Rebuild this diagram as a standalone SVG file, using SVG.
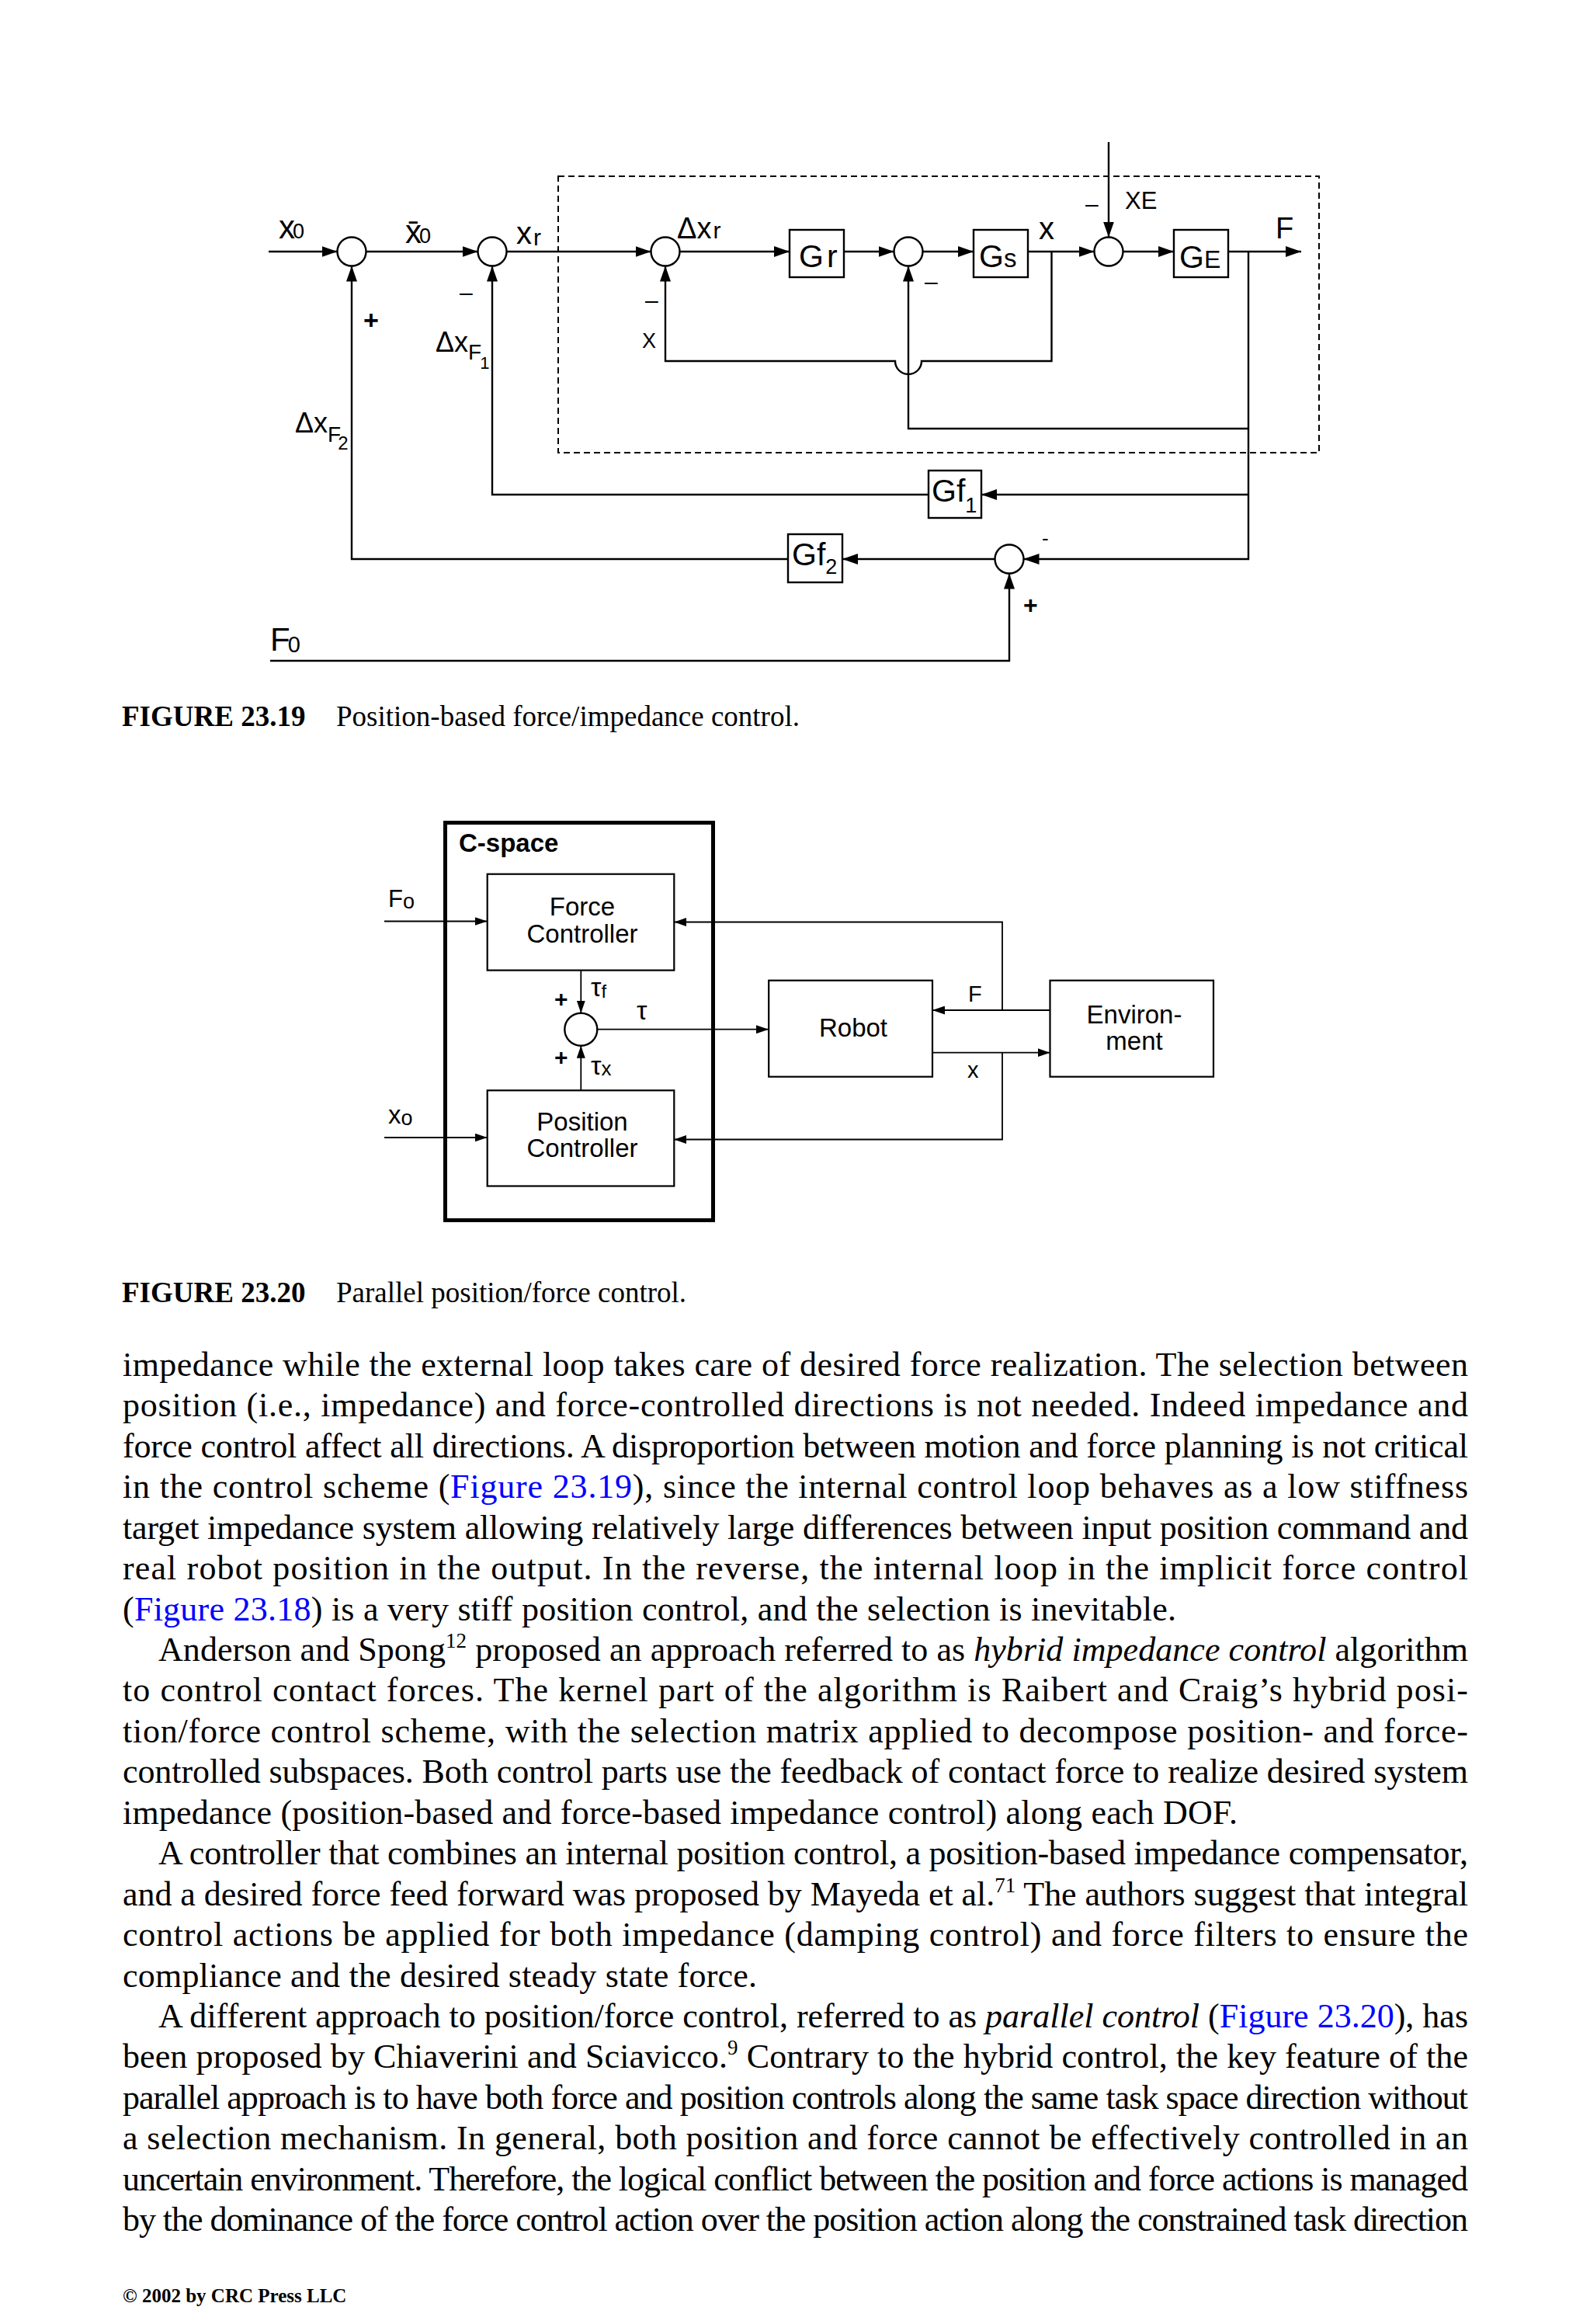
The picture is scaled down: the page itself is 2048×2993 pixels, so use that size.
<svg xmlns="http://www.w3.org/2000/svg" width="2048" height="2993" viewBox="0 0 2048 2993">
<defs>
<marker id="a1" markerUnits="userSpaceOnUse" markerWidth="20" markerHeight="14" viewBox="0 0 20 14" refX="20" refY="7" orient="auto"><path d="M0,0 L20,7 L0,14 Z" fill="#000"/></marker>
<marker id="a2" markerUnits="userSpaceOnUse" markerWidth="16" markerHeight="11" viewBox="0 0 16 11" refX="16" refY="5.5" orient="auto"><path d="M0,0 L16,5.5 L0,11 Z" fill="#000"/></marker>
<style>
.ln{fill:none;stroke:#000;stroke-width:2.4}
.ln2{fill:none;stroke:#000;stroke-width:1.8}
.ar{marker-end:url(#a1)}
.ar2{marker-end:url(#a2)}
.bx{fill:#fff;stroke:#000;stroke-width:2.4}
.bx2{fill:#fff;stroke:#000;stroke-width:2.2}
.sum{fill:#fff;stroke:#000;stroke-width:2.4}
.dash{fill:none;stroke:#000;stroke-width:2;stroke-dasharray:8 5}
.sf{font-family:"Liberation Sans",Arial,sans-serif;fill:#000}
.body{font-family:"Liberation Serif","Times New Roman",serif;font-size:44px;fill:#000}
.cap{font-family:"Liberation Serif","Times New Roman",serif;font-size:37px;fill:#000}
.b{font-weight:bold}
.lk{fill:#0000ff}
.it{font-style:italic}
</style>
</defs>
<rect width="2048" height="2993" fill="#fff"/>

<!-- ============ FIGURE 23.19 ============ -->
<g id="fig1923">
<rect id="inner-box" class="dash" x="719" y="227" width="980" height="356"/>
<g id="connectors1">
<path class="ln ar" d="M346,324 H434.5"/>
<path class="ln ar" d="M471.5,324 H615.5"/>
<path class="ln ar" d="M652.5,324 H838.5"/>
<path class="ln ar" d="M875.5,324 H1017"/>
<path class="ln ar" d="M1087,324 H1151.5"/>
<path class="ln ar" d="M1188.5,324 H1254"/>
<path class="ln ar" d="M1324,324 H1409.5"/>
<path class="ln ar" d="M1446.5,324 H1512"/>
<path class="ln ar" d="M1582,324 H1676"/>
<path class="ln ar" d="M1428,183 V305.5"/>
<path class="ln ar" d="M1354.5,324 V465 H1187 A17,17 0 0 1 1153,465 H857 V342.5"/>
<path class="ln ar" d="M1608,324 V720 H1318.5"/>
<path class="ln ar" d="M1608,552 H1170 V342.5"/>
<path class="ln ar" d="M1608,637 H1264"/>
<path class="ln ar" d="M1196,637 H634 V342.5"/>
<path class="ln ar" d="M1281.5,720 H1085"/>
<path class="ln ar" d="M1015,720 H453 V342.5"/>
<path class="ln ar" d="M348,851 H1300 V738.5"/>
</g>
<g id="s1"><circle class="sum" cx="453" cy="324" r="18.5"/></g>
<g id="s2"><circle class="sum" cx="634" cy="324" r="18.5"/></g>
<g id="s3"><circle class="sum" cx="857" cy="324" r="18.5"/></g>
<g id="s4"><circle class="sum" cx="1170" cy="324" r="18.5"/></g>
<g id="s5"><circle class="sum" cx="1428" cy="324" r="18.5"/></g>
<g id="s6"><circle class="sum" cx="1300" cy="720" r="18.5"/></g>
<g id="Gr"><rect class="bx" x="1017" y="296" width="70" height="61"/><text class="sf" x="1029" y="344" font-size="41">G<tspan dx="4">r</tspan></text></g>
<g id="Gs"><rect class="bx" x="1254" y="296" width="70" height="61"/><text class="sf" x="1261" y="344" font-size="41">G<tspan font-size="33">s</tspan></text></g>
<g id="GE"><rect class="bx" x="1512" y="296" width="70" height="61"/><text class="sf" x="1519" y="345" font-size="41">G<tspan font-size="32">E</tspan></text></g>
<g id="Gf1"><rect class="bx" x="1196" y="606" width="68" height="61"/><text class="sf" x="1200" y="646" font-size="41">Gf<tspan font-size="27" dy="14">1</tspan></text></g>
<g id="Gf2"><rect class="bx" x="1015" y="688" width="70" height="62"/><text class="sf" x="1020" y="728" font-size="41">Gf<tspan font-size="27" dy="11">2</tspan></text></g>
<g id="labels1" class="sf">
<text x="359" y="307" font-size="42">x<tspan font-size="27" dx="-3">0</tspan></text>
<text x="522" y="313" font-size="42">x̄<tspan font-size="27" dx="-3">0</tspan></text>
<text x="665" y="314" font-size="40">x<tspan font-size="30" dx="2" dy="2">r</tspan></text>
<text x="872" y="307" font-size="38">Δx<tspan font-size="30" dx="2">r</tspan></text>
<text x="592" y="387" font-size="30">–</text>
<text x="468" y="424" font-size="34" font-weight="bold">+</text>
<text x="561" y="453" font-size="36">Δx<tspan font-size="28" dy="10">F</tspan><tspan font-size="22" dx="-2" dy="12">1</tspan></text>
<text x="380" y="557" font-size="36">Δx<tspan font-size="28" dy="12">F</tspan><tspan font-size="24" dx="-4" dy="10">2</tspan></text>
<text x="831" y="397" font-size="30">–</text>
<text x="827" y="448" font-size="27">X</text>
<text x="1338" y="308" font-size="40">x</text>
<text x="1398" y="273" font-size="30">–</text>
<text x="1449" y="269" font-size="31">XE</text>
<text x="1643" y="307" font-size="38">F</text>
<text x="1191" y="373" font-size="30">–</text>
<text x="1342" y="702" font-size="26">-</text>
<text x="1318" y="790" font-size="32" font-weight="bold">+</text>
<text x="348" y="838" font-size="42">F<tspan font-size="29" dx="-3" dy="2">0</tspan></text>
</g>
</g>

<g id="caption1923" class="cap"><text x="157" y="935"><tspan class="b">FIGURE 23.19</tspan><tspan x="433">Position-based force/impedance control.</tspan></text></g>

<!-- ============ FIGURE 23.20 ============ -->
<g id="fig2320">
<g id="cspace"><rect x="573.5" y="1059.5" width="345" height="512" fill="none" stroke="#000" stroke-width="5"/><text class="sf b" x="591" y="1097" font-size="33">C-space</text></g>
<g id="connectors2">
<path class="ln2 ar2" d="M495,1186.5 H627.5"/>
<path class="ln2 ar2" d="M495,1465 H627.5"/>
<path class="ln2 ar2" d="M748.3,1249.6 V1304.7"/>
<path class="ln2 ar2" d="M748.3,1404.3 V1346.7"/>
<path class="ln2 ar2" d="M769.3,1325.7 H990"/>
<path class="ln2 ar2" d="M1352.5,1301 H1201"/>
<path class="ln2 ar2" d="M1201,1355.7 H1352.5"/>
<path class="ln2 ar2" d="M1291,1301 V1187.5 H868.3"/>
<path class="ln2 ar2" d="M1291,1355.7 V1467.5 H868.3"/>
</g>
<g id="forcectl"><rect class="bx2" x="627.7" y="1125.7" width="240.6" height="123.9"/><text class="sf" x="750" y="1179" font-size="33" text-anchor="middle">Force</text><text class="sf" x="750" y="1214" font-size="33" text-anchor="middle">Controller</text></g>
<g id="posctl"><rect class="bx2" x="627.7" y="1404.3" width="240.6" height="123.2"/><text class="sf" x="750" y="1456" font-size="33" text-anchor="middle">Position</text><text class="sf" x="750" y="1490" font-size="33" text-anchor="middle">Controller</text></g>
<g id="sum2"><circle class="sum" cx="748.3" cy="1325.7" r="21"/></g>
<g id="robot"><rect class="bx2" x="990.2" y="1262.7" width="210.8" height="124"/><text class="sf" x="1099" y="1335" font-size="33" text-anchor="middle">Robot</text></g>
<g id="env"><rect class="bx2" x="1352.5" y="1262.7" width="210.5" height="124"/><text class="sf" x="1461" y="1318" font-size="33" text-anchor="middle">Environ-</text><text class="sf" x="1461" y="1352" font-size="33" text-anchor="middle">ment</text></g>
<g id="labels2" class="sf">
<text x="500" y="1168" font-size="31">F<tspan font-size="27" dy="2">o</tspan></text>
<text x="500" y="1447" font-size="33">x<tspan font-size="27" dy="2">o</tspan></text>
<text x="714" y="1297" font-size="30" font-weight="bold">+</text>
<text x="714" y="1372" font-size="30" font-weight="bold">+</text>
<text x="761" y="1283" font-size="34">τ<tspan font-size="24" dy="2">f</tspan></text>
<text x="761" y="1384" font-size="34">τ<tspan font-size="26" dy="1">x</tspan></text>
<text x="820" y="1313" font-size="34">τ</text>
<text x="1247" y="1290" font-size="29">F</text>
<text x="1246" y="1388" font-size="29">x</text>
</g>
</g>

<g id="caption2320" class="cap"><text x="157" y="1677"><tspan class="b">FIGURE 23.20</tspan><tspan x="433">Parallel position/force control.</tspan></text></g>

<!-- ============ BODY TEXT ============ -->
<g id="bodytext" class="body">
<text x="158" y="1772" textLength="1733" lengthAdjust="spacing">impedance while the external loop takes care of desired force realization. The selection between</text>
<text x="158" y="1824" textLength="1733" lengthAdjust="spacing">position (i.e., impedance) and force-controlled directions is not needed. Indeed impedance and</text>
<text x="158" y="1877" textLength="1733" lengthAdjust="spacing">force control affect all directions. A disproportion between motion and force planning is not critical</text>
<text x="158" y="1929" textLength="1733" lengthAdjust="spacing">in the control scheme (<tspan class="lk">Figure 23.19</tspan>), since the internal control loop behaves as a low stiffness</text>
<text x="158" y="1982" textLength="1733" lengthAdjust="spacing">target impedance system allowing relatively large differences between input position command and</text>
<text x="158" y="2034" textLength="1733" lengthAdjust="spacing">real robot position in the output. In the reverse, the internal loop in the implicit force control</text>
<text x="158" y="2087" textLength="1357" lengthAdjust="spacing">(<tspan class="lk">Figure 23.18</tspan>) is a very stiff position control, and the selection is inevitable.</text>
<text x="204" y="2139" textLength="1687" lengthAdjust="spacing">Anderson and Spong<tspan font-size="27" dy="-17">12</tspan><tspan dy="17"> proposed an approach referred to as </tspan><tspan class="it">hybrid impedance control</tspan> algorithm</text>
<text x="158" y="2191" textLength="1733" lengthAdjust="spacing">to control contact forces. The kernel part of the algorithm is Raibert and Craig’s hybrid posi-</text>
<text x="158" y="2244" textLength="1733" lengthAdjust="spacing">tion/force control scheme, with the selection matrix applied to decompose position- and force-</text>
<text x="158" y="2296" textLength="1733" lengthAdjust="spacing">controlled subspaces. Both control parts use the feedback of contact force to realize desired system</text>
<text x="158" y="2349" textLength="1436" lengthAdjust="spacing">impedance (position-based and force-based impedance control) along each DOF.</text>
<text x="204" y="2401" textLength="1687" lengthAdjust="spacing">A controller that combines an internal position control, a position-based impedance compensator,</text>
<text x="158" y="2454" textLength="1733" lengthAdjust="spacing">and a desired force feed forward was proposed by Mayeda et al.<tspan font-size="27" dy="-17">71</tspan><tspan dy="17"> The authors suggest that integral</tspan></text>
<text x="158" y="2506" textLength="1733" lengthAdjust="spacing">control actions be applied for both impedance (damping control) and force filters to ensure the</text>
<text x="158" y="2559" textLength="817" lengthAdjust="spacing">compliance and the desired steady state force.</text>
<text x="204" y="2611" textLength="1687" lengthAdjust="spacing">A different approach to position/force control, referred to as <tspan class="it">parallel control</tspan> (<tspan class="lk">Figure 23.20</tspan>), has</text>
<text x="158" y="2663" textLength="1733" lengthAdjust="spacing">been proposed by Chiaverini and Sciavicco.<tspan font-size="27" dy="-17">9</tspan><tspan dy="17"> Contrary to the hybrid control, the key feature of the</tspan></text>
<text x="158" y="2716" textLength="1733" lengthAdjust="spacing">parallel approach is to have both force and position controls along the same task space direction without</text>
<text x="158" y="2768" textLength="1733" lengthAdjust="spacing">a selection mechanism. In general, both position and force cannot be effectively controlled in an</text>
<text x="158" y="2821" textLength="1733" lengthAdjust="spacing">uncertain environment. Therefore, the logical conflict between the position and force actions is managed</text>
<text x="158" y="2873" textLength="1733" lengthAdjust="spacing">by the dominance of the force control action over the position action along the constrained task direction</text>
</g>

<g id="footer"><text x="158" y="2965" font-family="Liberation Serif, Times New Roman, serif" font-size="25" font-weight="bold" fill="#000">© 2002 by CRC Press LLC</text></g>
</svg>
